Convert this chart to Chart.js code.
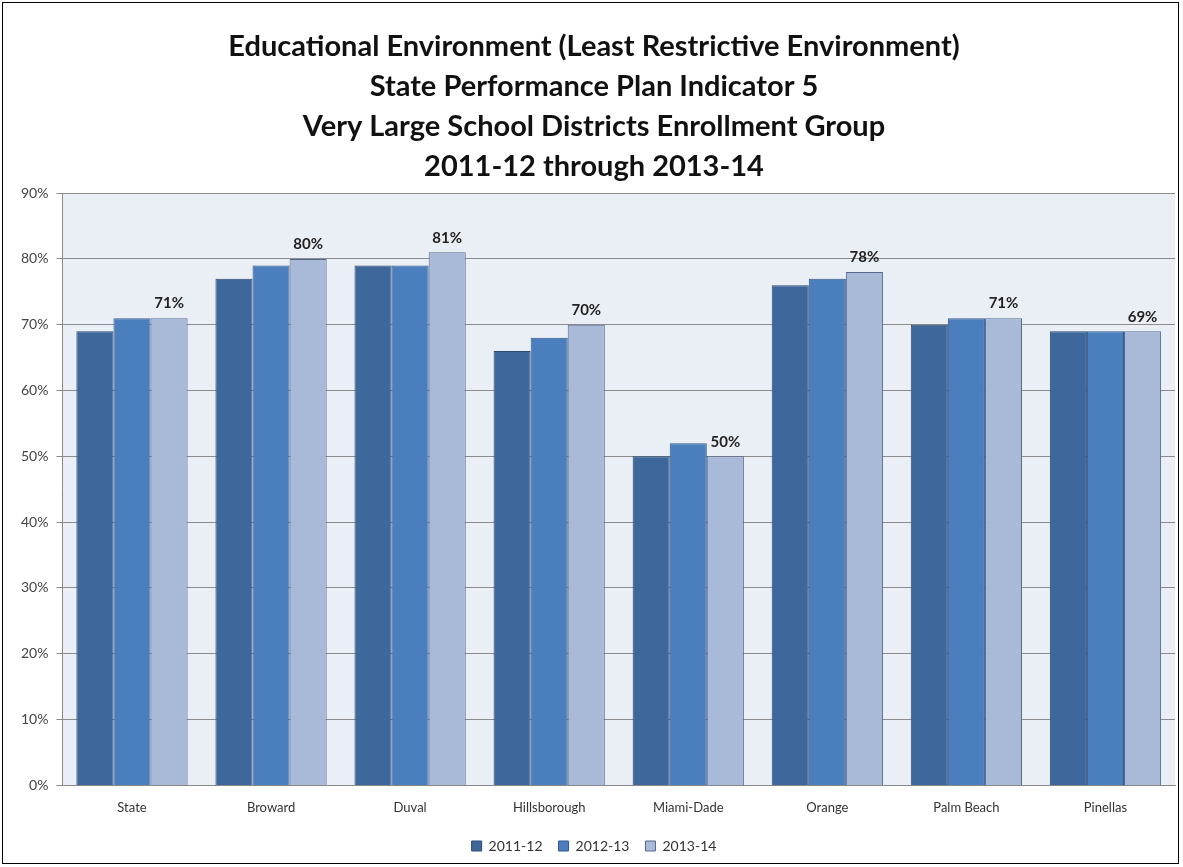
<!DOCTYPE html>
<html>
  <head>
    <script src="https://cdn.jsdelivr.net/npm/chart.js@4.4.1/dist/chart.umd.min.js"></script>
    <style>
      body { margin: 0; background: #fff; }
      #wrap {
        position: absolute; left: 2px; top: 2px;
        width: 1177px; height: 862px;
        border: 1px solid #000; box-sizing: border-box;
      }
    </style>
  </head>
  <body>
    <div id="wrap"><canvas id="chart"></canvas></div>
    <script>
      // INPUT DATA

      const districts = ["State", "Broward", "Duval", "Hillsborough", "Miami-Dade", "Orange", "Palm Beach", "Pinellas"];
      const years = ["2011-12", "2012-13", "2013-14"];
      const values2011 = [69, 77, 79, 66, 50, 76, 70, 69];
      const values2012 = [71, 79, 79, 68, 52, 77, 71, 69];
      const values2013 = [71, 80, 81, 70, 50, 78, 71, 69];
      const titleLines = [
        "Educational Environment (Least Restrictive Environment)",
        "State Performance Plan Indicator 5",
        "Very Large School Districts Enrollment Group",
        "2011-12 through 2013-14"
      ];

      const fills = ["#3e679b", "#4b7ebc", "#a9bad8"];
      const borders = ["#2c4a72", "#34598a", "#56698c"];

      // plot area background
      const plotBg = {
        id: "plotBg",
        beforeDraw(chart) {
          const { ctx, chartArea: a } = chart;
          ctx.save();
          ctx.fillStyle = "#eaeef5";
          ctx.fillRect(a.left, a.top, a.right - a.left, a.bottom - a.top);
          ctx.restore();
        }
      };

      // value labels on the last series only
      const lastLabels = {
        id: "lastLabels",
        afterDatasetsDraw(chart) {
          const ctx = chart.ctx;
          const meta = chart.getDatasetMeta(2);
          ctx.save();
          ctx.font = "bold 15px Lato";
          ctx.fillStyle = "#222";
          ctx.textAlign = "center";
          ctx.textBaseline = "bottom";
          meta.data.forEach(function (bar, i) {
            ctx.fillText(values2013[i] + "%", bar.x, bar.y - 7);
          });
          ctx.restore();
        }
      };

      const ds = [values2011, values2012, values2013].map(function (v, i) {
        return {
          label: years[i],
          data: v,
          backgroundColor: fills[i],
          borderColor: borders[i],
          borderWidth: 1,
          borderSkipped: "bottom",
          barPercentage: 1.0,
          categoryPercentage: 0.8
        };
      });

      new Chart(document.getElementById("chart"), {
        type: "bar",
        data: { labels: districts, datasets: ds },
        plugins: [plotBg, lastLabels],
        options: {
          responsive: true,
          maintainAspectRatio: false,
          animation: false,
          layout: { padding: { left: 10, right: 3, top: 4, bottom: 0 } },
          plugins: {
            title: {
              display: true,
              text: titleLines,
              color: "#111",
              font: { family: "Lato", size: 29, weight: "bold", lineHeight: 1.38 },
              padding: { top: 20, bottom: 6 }
            },
            legend: {
              position: "bottom",
              labels: {
                boxWidth: 10, boxHeight: 10, color: "#333",
                font: { family: "Lato", size: 14 }, padding: 16
              }
            },
            tooltip: { enabled: false }
          },
          scales: {
            x: {
              grid: { display: false },
              border: { color: "#888" },
              ticks: { color: "#333", font: { family: "Lato", size: 13 }, padding: 7 }
            },
            y: {
              min: 0, max: 90,
              ticks: {
                stepSize: 10, color: "#444", padding: 8,
                font: { family: "Lato", size: 14 },
                callback: function (v) { return v + "%"; }
              },
              grid: { color: "#8c8c8c", tickLength: 6 },
              border: { color: "#888" }
            }
          }
        }
      });
    </script>
  </body>
</html>
